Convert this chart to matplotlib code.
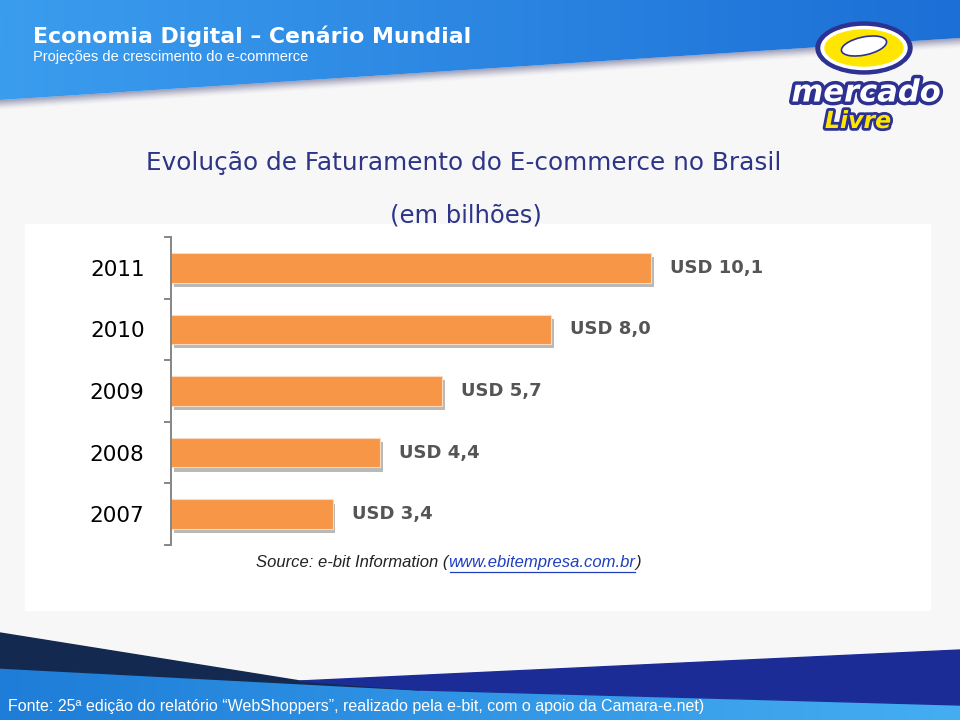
import numpy as np
import matplotlib.pyplot as plt
import matplotlib.colors as mcolors
import matplotlib.patheffects as pe
from matplotlib.patches import Polygon, Rectangle, Ellipse

# Dados do grafico (USD bilhoes)
years = ['2007', '2008', '2009', '2010', '2011']
revenue = [3.4, 4.4, 5.7, 8.0, 10.1]
value_labels = ['USD 3,4', 'USD 4,4', 'USD 5,7', 'USD 8,0', 'USD 10,1']

W, H = 960, 720
NAVY = '#2E3586'

fig = plt.figure(figsize=(9.6, 7.2), dpi=100)

# Fundo do slide, em coordenadas de pixel
bg = fig.add_axes([0, 0, 1, 1])
bg.set_autoscale_on(False)
bg.set_xlim(0, W)
bg.set_ylim(H, 0)
bg.axis('off')
bg.add_patch(Rectangle((0, 0), W, H, color='#F7F7F8', zorder=0))


def gradient_poly(ax, pts, c_left, c_right, zorder):
    poly = Polygon(pts, closed=True, facecolor='none', edgecolor='none', zorder=zorder)
    ax.add_patch(poly)
    xs = [p[0] for p in pts]
    ys = [p[1] for p in pts]
    t = np.linspace(0, 1, 256)[:, None]
    c0 = np.array(mcolors.to_rgb(c_left))
    c1 = np.array(mcolors.to_rgb(c_right))
    img = (c0 * (1 - t) + c1 * t)[None, :, :]
    im = ax.imshow(img, extent=(min(xs), max(xs), max(ys), min(ys)), aspect='auto',
                   zorder=zorder, interpolation='bilinear')
    im.set_clip_path(poly)


# Faixa azul de cima com sombra suave
for k, a in zip(range(10, 0, -1), np.linspace(0.04, 0.3, 10)):
    bg.add_patch(Polygon([(0, 100), (960, 38), (960, 38 + k), (0, 100 + k)],
                         color='#6F6F9A', alpha=a * 0.5, linewidth=0, zorder=1))
gradient_poly(bg, [(0, 0), (960, 0), (960, 38), (0, 100)], '#3B9DEE', '#1C6FD6', 2)

# Faixas de baixo
gradient_poly(bg, [(0, 668), (420, 690), (960, 705), (960, 720), (0, 720)], '#1E7DD8', '#45AEF2', 2)
bg.add_patch(Polygon([(0, 633), (300, 681), (420, 690), (0, 668)], color='#14294F', zorder=3))
bg.add_patch(Polygon([(960, 650), (300, 681), (420, 690), (960, 705)], color='#1B2C96', zorder=3))

# Caixa branca do grafico
bg.add_patch(Rectangle((25, 224), 905, 386, color='white', zorder=2))

# Logo Mercado Livre (aproximado)
bg.add_patch(Ellipse((864, 48), 96, 52, color='#2D3192', zorder=4))
bg.add_patch(Ellipse((864, 48), 86, 43, color='white', zorder=4))
bg.add_patch(Ellipse((864, 48), 78, 36, color='#FFE600', zorder=4))
bg.add_patch(Ellipse((864, 46), 46, 18, angle=-12, facecolor='white', edgecolor='#2D3192',
                     linewidth=1.2, zorder=5))
bg.text(866, 93, 'mercado', ha='center', va='center', fontsize=22, fontweight='bold',
        style='italic', color='white', zorder=6,
        path_effects=[pe.withStroke(linewidth=5, foreground='#2D3192')])
bg.text(858, 121, 'Livre', ha='center', va='center', fontsize=17, fontweight='bold',
        style='italic', color='#FFE600', zorder=6,
        path_effects=[pe.withStroke(linewidth=4, foreground='#2D3192')])

# Textos do cabecalho
bg.text(33, 36, 'Economia Digital – Cenário Mundial', ha='left', va='center', fontsize=15.8,
        fontweight='bold', color='white', zorder=6)
bg.text(33, 57, 'Projeções de crescimento do e-commerce', ha='left', va='center', fontsize=10.5,
        family='Liberation Sans', color='white', zorder=6)
bg.text(464, 163, 'Evolução de Faturamento do E-commerce no Brasil', ha='center', va='center',
        fontsize=17.8, color=NAVY, zorder=6)
bg.text(466, 215, '(em bilhões)', ha='center', va='center', fontsize=17.5, color=NAVY, zorder=6)

# Rodape
bg.text(8, 706, 'Fonte: 25ª edição do relatório “WebShoppers”, realizado pela e-bit, com o apoio da Camara-e.net)',
        ha='left', va='center', fontsize=11.5, color='white',
        family=['Liberation Sans Narrow', 'Liberation Sans'], zorder=6)

# Fonte dentro do grafico
src = bg.text(256, 563, 'Source: e-bit Information (', ha='left', va='center', fontsize=12,
              style='italic', family='Liberation Sans', color='#222222', zorder=6)
fig.canvas.draw()
r = fig.canvas.get_renderer()
x1 = bg.transData.inverted().transform(src.get_window_extent(r))[1][0]
url = bg.text(x1, 563, 'www.ebitempresa.com.br', ha='left', va='center', fontsize=12,
              style='italic', family='Liberation Sans', color='#1F3FBF', zorder=6)
fig.canvas.draw()
ub = bg.transData.inverted().transform(url.get_window_extent(r))
x2 = ub[1][0]
bg.plot([x1 + 2, x2], [572, 572], color='#1F3FBF', linewidth=0.9, zorder=6)
bg.text(x2, 563, ')', ha='left', va='center', fontsize=12, style='italic',
        family='Liberation Sans', color='#222222', zorder=6)

# Grafico de barras
ax = fig.add_axes([171 / W, 1 - 545 / H, 760 / W, 308 / H])
ax.patch.set_alpha(0)
ypos = np.arange(len(years))
ax.barh(ypos, revenue, height=0.48, color='#F79646', edgecolor='#FCD9BF', linewidth=0.8,
        path_effects=[pe.SimplePatchShadow(offset=(2, -3), shadow_rgbFace='#808080', alpha=0.55),
                      pe.Normal()])
for i, (v, lab) in enumerate(zip(revenue, value_labels)):
    ax.text(v + 0.4, i, lab, ha='left', va='center', fontsize=13, fontweight='bold', color='#555555')

ax.set_xlim(0, 16)
ax.set_ylim(-0.5, len(years) - 0.5)
ax.set_xticks([])
ax.set_yticks(ypos)
ax.set_yticklabels(years, fontsize=15.5, color='black')
ax.set_yticks(np.arange(-0.5, len(years), 1), minor=True)
ax.tick_params(axis='y', which='major', length=0, pad=19)
ax.tick_params(axis='y', which='minor', length=5, width=1.4, color='#868686', direction='out')
for s in ['top', 'right', 'bottom']:
    ax.spines[s].set_visible(False)
ax.spines['left'].set_color('#868686')
ax.spines['left'].set_linewidth(1.4)

fig.savefig('out.png', dpi=100)
